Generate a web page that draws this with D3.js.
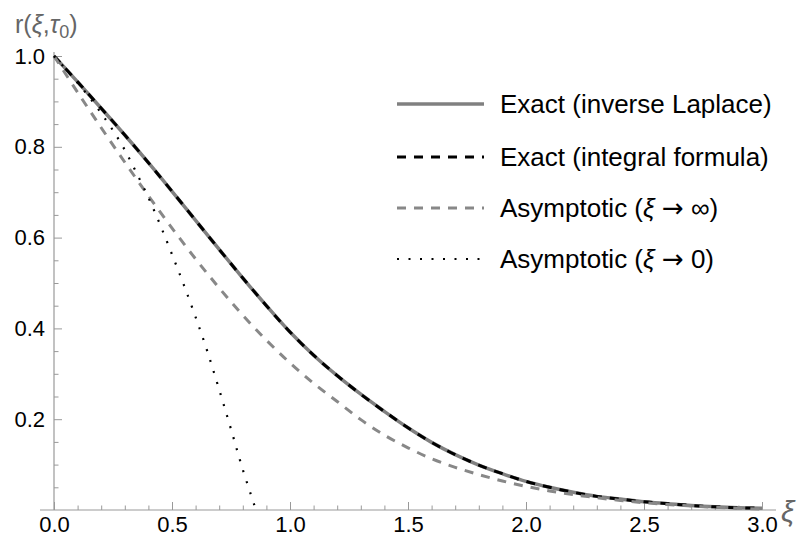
<!DOCTYPE html>
<html>
<head>
<meta charset="utf-8">
<script src="https://cdn.jsdelivr.net/npm/d3@7"></script>
<style>
  body { margin: 0; background: #fff; }
  svg { font-family: "Liberation Sans", Arial, sans-serif; }
</style>
</head>
<body>
<svg id="chart" width="806" height="540"></svg>
<script>
// xi grid and curve values
const xi = [0,0.1,0.2,0.3,0.4,0.5,0.6,0.7,0.8,0.9,1.0,1.1,1.2,1.3,1.4,1.5,1.6,1.7,1.8,1.9,2.0,2.1,2.2,2.3,2.4,2.5,2.6,2.7,2.8,2.9,3.0];
const exactLaplace = [1.0,0.943,0.885,0.826,0.765,0.702,0.638,0.574,0.511,0.450,0.392,0.341,0.296,0.255,0.217,0.181,0.149,0.122,0.099,0.080,0.063,0.050,0.039,0.030,0.024,0.018,0.014,0.010,0.007,0.005,0.004];
const exactIntegral = exactLaplace.slice();
const asymInf = [1.0,0.920,0.842,0.766,0.692,0.621,0.553,0.489,0.429,0.374,0.324,0.279,0.239,0.199,0.165,0.137,0.113,0.094,0.078,0.064,0.052,0.042,0.034,0.027,0.021,0.016,0.012,0.009,0.006,0.004,0.002];
const xiSmall = [0,0.05,0.1,0.15,0.2,0.25,0.3,0.35,0.4,0.45,0.5,0.55,0.6,0.65,0.7,0.75,0.8,0.856];
const asymZero = [1.0,0.971,0.941,0.909,0.874,0.836,0.793,0.742,0.688,0.628,0.563,0.496,0.425,0.349,0.265,0.178,0.089,0.0];

const xTicks = [0,0.5,1.0,1.5,2.0,2.5,3.0];
const yTicks = [0.2,0.4,0.6,0.8,1.0];
const legendLabels = ["Exact (inverse Laplace)","Exact (integral formula)","Asymptotic (\u03BE \u2192 \u221E)","Asymptotic (\u03BE \u2192 0)"];

const svg = d3.select("#chart");
const x = d3.scaleLinear().domain([0,3]).range([54,762]);
const y = d3.scaleLinear().domain([0,1]).range([510,56]);
const axisColor = "#999";

// minor ticks
const xMinor = d3.range(0,31).map(i=>i/10).filter(v=>Math.round(v*10)%5 !== 0);
const yMinor = d3.range(1,20).map(i=>i/20).filter(v=>Math.round(v*20)%4 !== 0);

let gx = svg.append("g").attr("transform","translate(0,510)")
  .call(d3.axisBottom(x).tickValues(xTicks).tickFormat(d3.format(".1f")).tickSizeInner(-8).tickSizeOuter(0).tickPadding(6));
let gxm = svg.append("g").attr("transform","translate(0,510)")
  .call(d3.axisBottom(x).tickValues(xMinor).tickFormat("").tickSizeInner(-4.5).tickSizeOuter(0));
let gy = svg.append("g").attr("transform","translate(54,0)")
  .call(d3.axisLeft(y).tickValues(yTicks).tickFormat(d3.format(".1f")).tickSizeInner(-8).tickSizeOuter(0).tickPadding(9));
let gym = svg.append("g").attr("transform","translate(54,0)")
  .call(d3.axisLeft(y).tickValues(yMinor).tickFormat("").tickSizeInner(-4.5).tickSizeOuter(0));

[gx,gxm,gy,gym].forEach(g=>{
  g.select(".domain").remove();
  g.selectAll(".tick line").attr("stroke",axisColor).attr("stroke-width",1);
  g.selectAll(".tick text").attr("fill","#000").style("font-size","22px");
});

// axis lines
svg.append("line").attr("x1",40).attr("x2",776).attr("y1",510).attr("y2",510)
  .attr("stroke",axisColor).attr("stroke-width",1.2);
svg.append("line").attr("x1",54).attr("x2",54).attr("y1",510).attr("y2",52)
  .attr("stroke",axisColor).attr("stroke-width",1.2);

// axis labels
svg.append("text").attr("x",781).attr("y",522).attr("fill","#666")
  .style("font-size","30px").style("font-style","italic").text("\u03BE");
const yl = svg.append("text").attr("x",15).attr("y",33).attr("fill","#666").style("font-size","25px");
yl.append("tspan").text("r(");
yl.append("tspan").style("font-style","italic").text("\u03BE");
yl.append("tspan").text(",");
yl.append("tspan").style("font-style","italic").text("\u03C4");
yl.append("tspan").attr("dy",5).style("font-size","18px").text("0");
yl.append("tspan").attr("dy",-5).text(")");

// curves
const line = d3.line().x(d=>x(d[0])).y(d=>y(d[1])).curve(d3.curveCatmullRom);
const series = [
  {xs: xi, ys: exactLaplace, stroke: "#808080", width: 3.5, dash: null},
  {xs: xi, ys: exactIntegral, stroke: "#000", width: 3, dash: "9,8"},
  {xs: xi, ys: asymInf, stroke: "#888", width: 3, dash: "9,8"},
  {xs: xiSmall, ys: asymZero, stroke: "#000", width: 2.2, dash: "2,9.5"}
];
svg.selectAll("path.curve").data(series).enter().append("path")
  .attr("class","curve")
  .attr("fill","none")
  .attr("stroke",d=>d.stroke)
  .attr("stroke-width",d=>d.width)
  .attr("stroke-dasharray",d=>d.dash)
  .attr("d",d=>line(d.xs.map((v,i)=>[v,d.ys[i]])));

// legend
const legendY = [104,157,208,259];
const lg = svg.selectAll("g.leg").data(series).enter().append("g")
  .attr("class","leg")
  .attr("transform",(d,i)=>`translate(0,${legendY[i]})`);
lg.append("line").attr("x1",397).attr("x2",484).attr("y1",0).attr("y2",0)
  .attr("stroke",d=>d.stroke).attr("stroke-width",d=>d.width)
  .attr("stroke-dasharray",d=>d.dash);
lg.append("text").attr("x",500).attr("y",0).attr("dy","0.36em")
  .style("font-size","26px").attr("fill","#000")
  .each(function(d,i){
    const t = d3.select(this);
    const label = legendLabels[i];
    if (i < 2) { t.text(label); return; }
    // italic xi, larger arrow
    t.append("tspan").text("Asymptotic (");
    t.append("tspan").style("font-style","italic").text("\u03BE");
    t.append("tspan").text(" ");
    t.append("tspan").style("font-family","'DejaVu Sans'").text("\u2192");
    t.append("tspan").text(" " + label.slice(label.indexOf("\u2192")+2));
  });
</script>
</body>
</html>
